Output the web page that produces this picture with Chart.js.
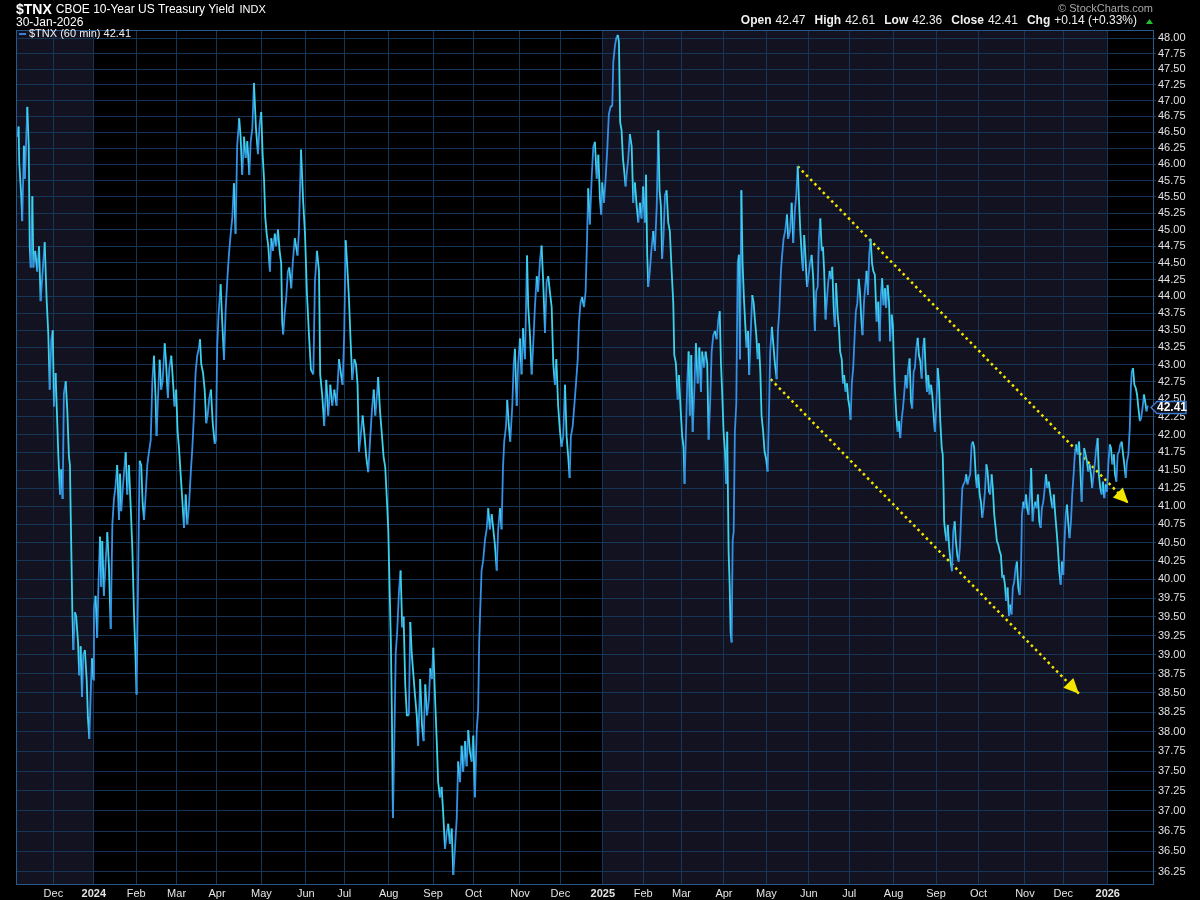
<!DOCTYPE html>
<html>
<head>
<meta charset="utf-8">
<title>$TNX 60 min</title>
<script src="https://cdn.jsdelivr.net/npm/chart.js@4.4.1/dist/chart.umd.min.js"></script>
<style>
  html, body { margin: 0; padding: 0; background: #000; overflow: hidden; }
</style>
</head>
<body>
<canvas id="tnx" width="1200" height="900"></canvas>
<script>
// trading-day index (0 = 2 Jan 2024), fractional = intraday
const sessionDay = [
  -37.9,-37.2,-36.9,-35.9,-35.4,-34.6,-34.1,-32.9,-32.2,-31.7,
  -31.2,-30.4,-29.9,-29.0,-28.0,-27.1,-26.3,-25.3,-24.3,-23.3,
  -22.5,-21.8,-21.0,-20.3,-19.7,-18.9,-18.2,-17.6,-16.7,-16.1,
  -15.4,-14.8,-13.9,-13.1,-12.3,-11.8,-11.4,-10.6,-10.1,-9.3,
  -8.7,-7.8,-7.2,-6.5,-5.8,-5.2,-4.4,-3.5,-2.9,-2.2,
  -1.5,-0.9,-0.2,0.1,0.9,1.7,2.4,3.1,3.7,4.2,
  5.0,5.9,6.7,7.5,8.4,9.2,10.0,10.8,11.6,12.5,
  13.0,13.6,14.6,15.8,16.6,17.4,18.3,19.1,19.9,20.7,
  21.2,21.9,22.7,23.5,24.2,24.9,25.7,26.5,27.3,28.2,
  29.0,29.8,30.6,31.1,31.8,32.6,33.4,34.1,35.1,35.7,
  36.7,37.4,38.4,39.2,40.0,40.8,41.5,42.2,43.0,43.8,
  44.7,45.5,46.3,47.1,48.0,48.8,49.6,50.4,51.2,52.1,
  52.6,53.2,54.1,54.9,55.7,56.4,57.2,58.0,58.9,59.9,
  60.5,61.1,61.8,62.8,63.6,64.5,65.3,66.1,66.9,67.8,
  68.6,69.4,70.2,71.0,72.0,72.7,73.5,74.4,75.2,76.0,
  77.0,77.7,78.5,79.3,80.3,81.3,82.1,82.9,83.6,84.3,
  84.9,85.6,86.4,87.2,87.9,88.7,89.6,90.3,91.2,92.0,
  92.8,93.3,93.8,94.5,95.3,96.1,96.8,97.8,98.5,99.5,
  100.9,101.6,102.6,103.6,104.6,105.5,106.5,107.5,108.7,109.5,
  110.5,111.5,112.1,113.1,114.1,115.1,116.1,117.1,118.1,119.1,
  120.2,121.4,122.4,123.2,124.0,124.7,125.5,126.3,127.2,128.0,
  129.0,129.8,130.6,131.3,132.1,133.1,134.1,134.9,135.9,136.9,
  137.7,138.6,139.4,140.2,140.8,141.7,142.5,143.5,144.3,145.2,
  145.8,146.5,147.1,147.6,148.1,148.8,149.5,150.2,151.1,151.9,
  152.7,153.4,154.2,155.0,156.0,156.7,157.4,158.2,159.0,159.9,
  160.6,161.6,162.5,163.3,164.1,165.0,165.9,166.6,167.4,168.1,
  168.9,169.8,170.5,171.4,172.2,173.0,173.9,174.7,175.5,176.3,
  177.2,178.0,178.8,179.7,180.4,181.3,182.1,182.9,183.8,184.6,
  185.4,186.2,187.1,187.9,188.7,189.6,190.3,190.8,191.3,192.0,
  192.8,193.7,194.5,195.3,196.1,197.0,197.8,198.6,199.5,200.2,
  201.1,201.9,202.6,203.2,204.1,204.7,205.5,206.2,207.2,207.9,
  208.5,209.4,210.1,211.0,211.8,212.5,213.5,214.5,215.1,215.9,
  216.8,217.6,218.4,219.3,220.0,220.9,221.7,222.5,223.4,224.2,
  225.0,225.8,226.7,227.5,228.3,229.0,229.9,230.8,231.6,232.4,
  233.3,234.1,234.9,235.6,236.2,237.1,237.9,238.7,239.6,240.2,
  241.0,241.8,242.7,243.5,244.2,244.8,245.6,246.5,247.3,248.1,
  249.0,249.8,250.6,251.2,251.7,252.6,253.4,254.2,255.0,255.9,
  256.7,257.2,258.0,258.7,259.4,260.0,260.6,261.3,262.0,262.6,
  263.3,264.0,264.6,265.4,266.3,267.1,267.9,268.8,269.6,270.4,
  271.2,272.0,272.9,273.4,274.0,274.5,275.3,276.2,277.0,277.8,
  278.7,279.5,280.1,280.8,281.4,282.1,282.8,283.6,284.4,285.2,
  286.1,286.9,287.4,288.2,289.1,289.7,290.5,291.3,292.0,292.5,
  293.2,293.8,294.5,295.1,295.8,296.5,297.3,298.1,299.0,299.8,
  300.6,301.2,302.1,302.9,303.7,304.4,305.2,305.9,306.7,307.5,
  308.4,309.2,309.9,310.5,311.1,311.8,312.5,313.1,313.6,314.3,
  314.8,315.3,315.8,316.3,316.8,317.4,318.1,318.8,319.4,319.9,
  320.6,321.2,321.9,322.6,323.2,323.9,324.5,325.2,326.0,326.7,
  327.3,328.0,328.7,329.3,330.0,330.6,331.4,332.1,332.9,333.6,
  334.3,334.9,335.7,336.4,337.2,338.1,338.7,339.4,340.2,340.8,
  341.5,342.3,343.2,343.8,344.7,345.5,346.3,347.1,347.8,348.5,
  349.1,349.8,350.5,351.1,351.7,352.4,353.1,353.7,354.6,355.4,
  356.2,357.0,357.7,358.4,359.0,359.7,360.4,361.0,361.6,362.3,
  363.0,363.6,364.3,365.0,365.6,366.3,366.9,367.5,368.3,368.9,
  369.5,370.3,370.9,371.5,372.2,372.9,373.5,374.2,374.7,375.3,
  376.0,376.7,377.3,378.0,378.7,379.3,380.0,380.6,381.3,381.9,
  382.6,383.3,383.9,384.6,385.3,385.9,386.7,387.6,388.4,389.1,
  389.7,390.3,391.0,391.7,392.3,393.0,393.7,394.3,395.0,395.6,
  396.1,396.6,397.3,398.0,398.6,399.3,400.0,400.6,401.2,401.9,
  402.6,403.2,403.9,404.6,405.2,405.9,406.5,407.2,407.9,408.5,
  409.2,409.9,410.5,411.2,411.8,412.5,413.1,413.8,414.5,415.1,
  415.8,416.4,417.1,417.8,418.4,419.1,419.8,420.3,420.7,421.0,
  421.5,422.2,422.8,423.5,424.2,424.9,425.5,426.2,426.8,427.5,
  428.2,428.8,429.5,430.0,430.6,431.3,431.9,432.6,433.3,433.9,
  434.6,435.2,435.9,436.6,437.2,437.9,438.6,439.2,439.9,440.5,
  441.2,441.9,442.5,443.2,443.8,444.5,445.1,445.8,446.5,447.1,
  447.8,448.5,449.1,449.8,450.4,451.1,451.7,452.4,453.1,453.7,
  454.4,455.0,455.7,456.4,457.0,457.7,458.4,459.0,459.5,460.2,
  460.8,461.5,462.1,462.8,463.5,464.1,464.8,465.4,466.1,466.8,
  467.4,468.1,468.8,469.4,470.1,470.8,471.4,472.1,472.8,473.4,
  474.1,474.7,475.3,476.0,476.7,477.3,478.0,478.7,479.3,480.0,
  480.5,481.2,481.8,482.4,483.1,483.8,484.4,485.1,485.7,486.4,
  487.1,487.8,488.4,489.1,489.8,490.3,491.0,491.7,492.3,493.0,
  493.7,494.3,495.0,495.7,496.3,497.0,497.6,498.3,499.0,499.6,
  500.3,501.0,501.6,502.3,503.0,503.6,504.3,505.0,505.6,506.3,
  506.9,507.6,508.2,508.9,509.6,510.2,510.9,511.5,512.2,512.9,
  513.4,513.9,514.5,515.2,515.9,516.5,517.2,517.9,518.5,519.2,
  519.9,520.5,521.2,521.8
];

const tnxValue = [
  46.43,46.59,46.03,45.51,45.13,46.29,45.78,46.90,46.29,44.75,
  44.43,45.51,44.43,44.68,44.37,44.75,43.93,44.37,44.81,43.93,
  43.44,42.64,43.37,43.50,42.40,42.88,42.28,41.75,41.16,41.51,
  41.10,42.58,42.76,42.34,41.69,41.57,40.87,39.56,39.06,39.56,
  39.50,39.17,38.73,39.11,38.45,39.00,39.06,38.67,38.18,37.91,
  38.51,38.95,38.67,39.61,39.78,39.22,40.01,40.58,39.90,40.52,
  39.78,40.24,40.64,40.18,39.34,40.75,41.10,41.28,41.57,40.81,
  41.45,40.93,41.33,41.75,41.16,41.57,40.98,40.41,39.56,38.95,
  38.48,39.90,41.63,41.57,41.04,40.81,41.16,41.57,41.75,41.92,
  42.76,43.13,42.52,41.98,42.52,43.07,42.64,42.76,43.31,43.07,
  42.52,42.95,43.13,42.76,42.40,42.64,42.04,41.81,41.45,41.10,
  40.70,41.16,40.75,40.98,41.45,41.81,42.28,42.88,43.13,43.25,
  43.37,43.01,42.88,42.64,42.16,42.28,42.52,42.64,42.16,41.87,
  41.92,43.25,43.74,44.18,43.62,43.07,43.81,44.24,44.62,44.94,
  45.19,45.71,44.94,46.29,46.72,46.43,45.84,46.43,46.10,46.36,
  45.84,46.36,46.56,47.28,46.56,46.16,46.62,46.82,46.16,45.77,
  45.19,44.94,44.75,44.37,44.87,44.68,44.94,44.75,45.00,44.68,
  44.49,43.62,43.44,43.74,43.99,44.37,44.43,44.12,44.49,44.87,
  44.61,45.00,46.23,45.47,44.92,44.07,43.46,42.93,42.86,44.22,
  44.68,44.38,42.86,42.56,42.12,42.78,42.27,42.71,42.41,42.64,
  42.41,43.08,42.86,42.71,43.46,44.84,44.45,43.99,43.31,42.78,
  43.08,43.01,42.71,41.76,41.97,42.27,41.97,41.68,41.47,41.97,
  42.34,42.64,42.27,42.56,42.82,42.34,42.05,41.68,41.54,41.04,
  40.68,39.84,39.15,38.21,36.91,37.88,39.02,39.29,39.84,40.12,
  39.36,39.50,38.61,38.21,38.21,39.43,39.02,38.75,38.48,38.21,
  37.82,38.68,38.08,37.88,38.61,38.21,38.41,38.82,38.68,39.09,
  38.48,37.88,37.36,37.17,37.30,36.97,36.53,36.72,36.84,36.59,
  36.78,36.21,36.53,36.91,37.62,37.36,37.82,37.49,37.88,37.56,
  38.02,37.75,37.62,37.95,37.17,38.02,38.28,39.15,39.57,40.12,
  40.26,40.54,40.68,40.97,40.68,40.89,40.68,40.47,40.12,40.68,
  40.97,40.68,41.54,41.90,42.12,42.49,42.12,41.90,42.41,43.01,
  43.23,42.41,43.01,43.38,42.86,43.53,43.08,44.61,43.84,43.46,
  42.86,43.31,43.84,44.30,44.07,44.53,44.76,44.22,43.46,44.22,
  44.30,44.07,43.84,43.01,42.71,43.08,42.41,42.05,41.83,41.97,
  42.71,41.97,41.68,41.39,41.97,42.12,42.41,42.71,43.08,43.61,
  43.91,43.99,43.84,44.07,44.84,45.63,45.08,45.79,46.27,46.35,
  45.78,46.15,45.47,45.23,45.72,45.41,45.78,46.22,46.78,46.91,
  46.91,47.61,47.87,48.00,48.05,47.94,46.66,46.53,46.09,45.90,
  45.66,45.90,46.09,46.47,46.28,45.41,45.72,45.35,45.11,45.41,
  45.17,45.66,45.11,45.84,44.62,44.14,44.38,44.74,44.98,44.68,
  45.35,46.53,45.60,45.35,44.56,44.92,45.53,45.60,45.11,44.98,
  44.38,43.90,43.14,43.02,42.50,42.85,42.38,41.98,41.82,41.31,
  42.04,42.73,43.19,42.27,43.14,42.04,42.61,43.31,42.73,43.25,
  42.61,43.19,42.96,43.19,43.02,41.93,42.50,43.19,43.43,43.49,
  43.37,43.66,43.78,43.02,42.61,42.04,41.76,41.31,42.04,40.37,
  39.94,39.29,39.16,40.53,40.65,42.04,42.44,44.50,44.62,43.08,
  45.60,44.50,43.96,43.55,43.25,43.49,42.85,43.43,44.02,43.90,
  43.66,43.43,43.08,43.31,42.90,42.27,42.04,41.76,41.65,41.48,
  42.33,43.19,43.55,43.31,43.02,42.79,43.49,43.78,44.38,44.62,
  44.86,44.98,45.23,44.86,44.98,45.41,44.80,45.29,45.53,45.97,
  45.47,44.98,44.62,44.38,44.92,44.56,44.14,44.26,44.50,44.62,
  44.26,43.49,44.08,44.14,44.86,45.17,44.68,44.74,44.38,43.66,
  43.96,44.20,44.38,44.26,44.44,43.84,43.55,44.20,43.72,43.55,
  43.19,43.08,42.73,42.85,42.61,42.73,42.50,42.38,42.21,42.73,
  42.96,43.43,43.78,43.90,44.26,44.08,43.66,43.43,43.90,44.14,
  44.38,44.02,44.62,44.86,44.50,44.38,44.32,43.63,43.92,43.34,
  44.02,44.27,43.87,44.12,43.83,44.17,43.92,43.34,43.73,43.58,
  43.05,42.66,42.28,42.04,42.19,41.95,42.23,42.37,42.57,42.85,
  42.66,42.95,43.09,42.47,42.37,42.90,42.95,43.24,43.39,43.14,
  43.05,42.80,43.24,43.39,42.95,42.61,42.85,42.57,42.71,42.57,
  42.28,42.04,42.37,42.95,42.76,42.19,41.81,41.72,41.25,40.79,
  40.65,40.52,40.74,40.43,40.24,40.11,40.65,40.79,40.52,40.33,
  40.24,40.43,40.93,41.25,41.30,41.34,41.44,41.30,41.39,41.44,
  41.86,41.90,41.81,41.44,41.25,41.44,41.16,41.06,40.84,40.97,
  41.20,41.58,41.48,41.20,41.16,41.44,41.25,40.88,40.70,40.52,
  40.47,40.38,40.33,40.02,40.06,39.93,39.71,39.89,39.51,39.66,
  39.53,39.89,39.97,40.16,40.24,39.89,39.79,40.06,40.88,41.06,
  40.97,41.16,40.97,40.88,41.16,41.53,40.79,40.97,41.06,40.97,
  41.16,40.79,40.70,40.97,41.06,41.25,41.44,41.25,41.34,41.20,
  41.06,40.97,41.16,40.88,40.65,40.43,40.11,39.93,40.24,40.06,
  40.47,40.88,41.02,40.79,40.56,40.79,41.16,41.44,41.72,41.86,
  41.72,41.90,41.53,41.06,41.58,41.81,41.72,41.62,41.48,41.58,
  41.44,41.25,41.44,41.62,41.81,41.95,41.44,41.25,41.16,41.34,
  41.11,41.30,41.20,41.58,41.86,41.81,41.58,41.72,41.44,41.34,
  41.72,41.76,41.86,41.90,41.72,41.58,41.39,41.62,41.72,42.09,
  42.66,42.90,42.95,42.71,42.66,42.57,42.37,42.19,42.23,42.37,
  42.57,42.47,42.33,42.41
];

// month starts in trading days and their labels
const monthStarts = [-20, 0, 21, 41, 61, 83, 105, 124, 146, 168, 188, 211, 231,
                     252, 272, 291, 312, 333, 354, 374, 396, 417, 438, 461, 480, 502];
const monthLabels = ['Dec', '2024', 'Feb', 'Mar', 'Apr', 'May', 'Jun', 'Jul', 'Aug', 'Sep', 'Oct', 'Nov', 'Dec',
                     '2025', 'Feb', 'Mar', 'Apr', 'May', 'Jun', 'Jul', 'Aug', 'Sep', 'Oct', 'Nov', 'Dec', '2026'];

const yTicks = [36.25, 36.50, 36.75, 37.00, 37.25, 37.50, 37.75, 38.00, 38.25, 38.50, 38.75, 39.00,
                39.25, 39.50, 39.75, 40.00, 40.25, 40.50, 40.75, 41.00, 41.25, 41.50, 41.75, 42.00,
                42.25, 42.50, 42.75, 43.00, 43.25, 43.50, 43.75, 44.00, 44.25, 44.50, 44.75, 45.00,
                45.25, 45.50, 45.75, 46.00, 46.25, 46.50, 46.75, 47.00, 47.25, 47.50, 47.75, 48.00];

// alternating year bands (2023 tail and 2025)
const bandStart = [-40, 252];
const bandEnd = [0, 502];

// channel lines drawn on the chart
const upperTrendDays = [348.5, 512.2];
const upperTrendVals = [45.97, 41.04];
const lowerTrendDays = [335.1, 487.7];
const lowerTrendVals = [42.79, 38.49];

const quoteNames = ['Open', 'High', 'Low', 'Close', 'Chg'];
const quoteValues = ['42.47', '42.61', '42.36', '42.41', '+0.14 (+0.33%)'];
const lastClose = 42.41;

const FONT = '"Liberation Sans", Arial, sans-serif';
const GRID = '#163657';
const FRAME = '#29598a';
const UP = '#3590e6';
const DOWN = '#3cd3ea';

const tnxPoints = sessionDay.map((d, i) => ({ x: d, y: tnxValue[i] }));
const upperPoints = upperTrendDays.map((d, i) => ({ x: d, y: upperTrendVals[i] }));
const lowerPoints = lowerTrendDays.map((d, i) => ({ x: d, y: lowerTrendVals[i] }));

const bands = {
    id: 'bands',
    beforeDraw(chart) {
        const { ctx, chartArea: a, scales: { x } } = chart;
        ctx.save();
        ctx.fillStyle = '#000';
        ctx.fillRect(0, 0, chart.width, chart.height);
        ctx.fillStyle = '#121220';
        bandStart.forEach((s, i) => {
            const l = Math.max(a.left, x.getPixelForValue(s));
            const r = Math.min(a.right, x.getPixelForValue(bandEnd[i]));
            ctx.fillRect(l, a.top, r - l, a.bottom - a.top);
        });
        ctx.restore();
    }
};

const arrows = {
    id: 'arrows',
    afterDatasetsDraw(chart) {
        const ctx = chart.ctx;
        [1, 2].forEach(idx => {
            const pts = chart.getDatasetMeta(idx).data;
            const p0 = pts[0], p1 = pts[pts.length - 1];
            const ang = Math.atan2(p1.y - p0.y, p1.x - p0.x);
            const len = 15, half = 7;
            const bx = p1.x - Math.cos(ang) * len, by = p1.y - Math.sin(ang) * len;
            ctx.save();
            ctx.fillStyle = '#f5e600';
            ctx.beginPath();
            ctx.moveTo(p1.x, p1.y);
            ctx.lineTo(bx + Math.sin(ang) * half, by - Math.cos(ang) * half);
            ctx.lineTo(bx - Math.sin(ang) * half, by + Math.cos(ang) * half);
            ctx.closePath();
            ctx.fill();
            ctx.restore();
        });
    }
};

const overlay = {
    id: 'overlay',
    afterDraw(chart) {
        const { ctx, chartArea: a, scales: { y } } = chart;
        ctx.save();

        // frame
        ctx.strokeStyle = FRAME;
        ctx.lineWidth = 1;
        ctx.strokeRect(a.left + 0.5, a.top + 0.5, a.right - a.left, a.bottom - a.top);

        // title
        ctx.textBaseline = 'middle';
        ctx.fillStyle = '#ffffff';
        ctx.font = 'bold 14px ' + FONT;
        ctx.fillText('$TNX', 16, 10);
        let tx = 16 + ctx.measureText('$TNX').width + 4;
        ctx.font = '12px ' + FONT;
        ctx.fillText('CBOE 10-Year US Treasury Yield', tx, 10);
        tx += ctx.measureText('CBOE 10-Year US Treasury Yield').width + 5;
        ctx.font = '11px ' + FONT;
        ctx.fillText('INDX', tx, 10);
        ctx.font = '12px ' + FONT;
        ctx.fillText('30-Jan-2026', 16, 23);

        // watermark
        ctx.fillStyle = '#a8a8a8';
        ctx.font = '11px ' + FONT;
        ctx.textAlign = 'right';
        ctx.fillText('\u00A9 StockCharts.com', 1153, 9);

        // quote line, laid out from the right
        ctx.textAlign = 'left';
        const parts = [];
        quoteNames.forEach((n, i) => {
            parts.push({ t: n, f: 'bold 12px ' + FONT, gap: 4 });
            parts.push({ t: quoteValues[i], f: '12px ' + FONT, gap: 9 });
        });
        let total = 0;
        parts.forEach(p => { ctx.font = p.f; p.w = ctx.measureText(p.t).width; total += p.w + p.gap; });
        let qx = 1146 - total;
        ctx.fillStyle = '#f0f0f0';
        parts.forEach(p => { ctx.font = p.f; ctx.fillText(p.t, qx, 21); qx += p.w + p.gap; });
        ctx.fillStyle = '#22c22e';
        ctx.beginPath();
        ctx.moveTo(1146, 24); ctx.lineTo(1153, 24); ctx.lineTo(1149.5, 19);
        ctx.closePath();
        ctx.fill();

        // in-chart legend
        ctx.strokeStyle = '#3a7fd8';
        ctx.lineWidth = 2;
        ctx.beginPath();
        ctx.moveTo(19, 34); ctx.lineTo(26, 34);
        ctx.stroke();
        ctx.fillStyle = '#f0f0f0';
        ctx.font = '11px ' + FONT;
        ctx.fillText('$TNX (60 min) ' + lastClose.toFixed(2), 29, 34);

        // last value tag on the axis
        const ly = Math.round(y.getPixelForValue(lastClose)) + 1.5;
        ctx.fillStyle = '#0c0c14';
        ctx.strokeStyle = '#3a78d0';
        ctx.lineWidth = 1.5;
        ctx.beginPath();
        ctx.moveTo(a.right - 2, ly);
        ctx.lineTo(a.right + 4, ly - 6);
        ctx.lineTo(a.right + 33, ly - 6);
        ctx.lineTo(a.right + 33, ly + 6);
        ctx.lineTo(a.right + 4, ly + 6);
        ctx.closePath();
        ctx.fill();
        ctx.stroke();
        ctx.fillStyle = '#ffffff';
        ctx.font = 'bold 12px ' + FONT;
        ctx.fillText(lastClose.toFixed(2), a.right + 4, ly + 0.5);

        ctx.restore();
    }
};

new Chart(document.getElementById('tnx'), {
    type: 'line',
    data: {
        datasets: [
            {
                data: tnxPoints,
                borderColor: DOWN,
                borderWidth: 1.8,
                pointRadius: 0,
                tension: 0,
                segment: {
                    borderColor: c => c.p1.parsed.y > c.p0.parsed.y ? UP : DOWN
                }
            },
            {
                data: upperPoints,
                borderColor: '#f5e600',
                borderWidth: 2.5,
                borderDash: [2.5, 3.5],
                pointRadius: 0
            },
            {
                data: lowerPoints,
                borderColor: '#f5e600',
                borderWidth: 2.5,
                borderDash: [2.5, 3.5],
                pointRadius: 0
            }
        ]
    },
    options: {
        responsive: false,
        animation: false,
        layout: { padding: { top: 30, left: 16, right: 0, bottom: 0 } },
        plugins: {
            legend: { display: false },
            tooltip: { enabled: false }
        },
        scales: {
            x: {
                type: 'linear',
                min: -38.5,
                max: 524.4,
                afterBuildTicks: s => { s.ticks = monthStarts.map(v => ({ value: v })); },
                afterFit: s => { s.height = 16; },
                grid: { color: GRID, drawTicks: false },
                border: { color: FRAME },
                ticks: {
                    autoSkip: false,
                    maxRotation: 0,
                    padding: 3,
                    color: '#e4e4e4',
                    font: c => ({ family: FONT, size: 11, weight: /^\d/.test(monthLabels[c.index] || '') ? 'bold' : 'normal' }),
                    callback: (v, i) => monthLabels[i]
                }
            },
            y: {
                type: 'logarithmic',
                position: 'right',
                min: 36.10,
                max: 48.13,
                afterBuildTicks: s => { s.ticks = yTicks.map(v => ({ value: v })); },
                afterFit: s => { s.width = 47; },
                grid: { color: GRID, tickLength: 3 },
                border: { color: FRAME },
                ticks: {
                    autoSkip: false,
                    padding: 2,
                    color: '#e4e4e4',
                    font: { family: FONT, size: 11 },
                    callback: v => Number(v).toFixed(2)
                }
            }
        }
    },
    plugins: [bands, arrows, overlay]
});
</script>
</body>
</html>
